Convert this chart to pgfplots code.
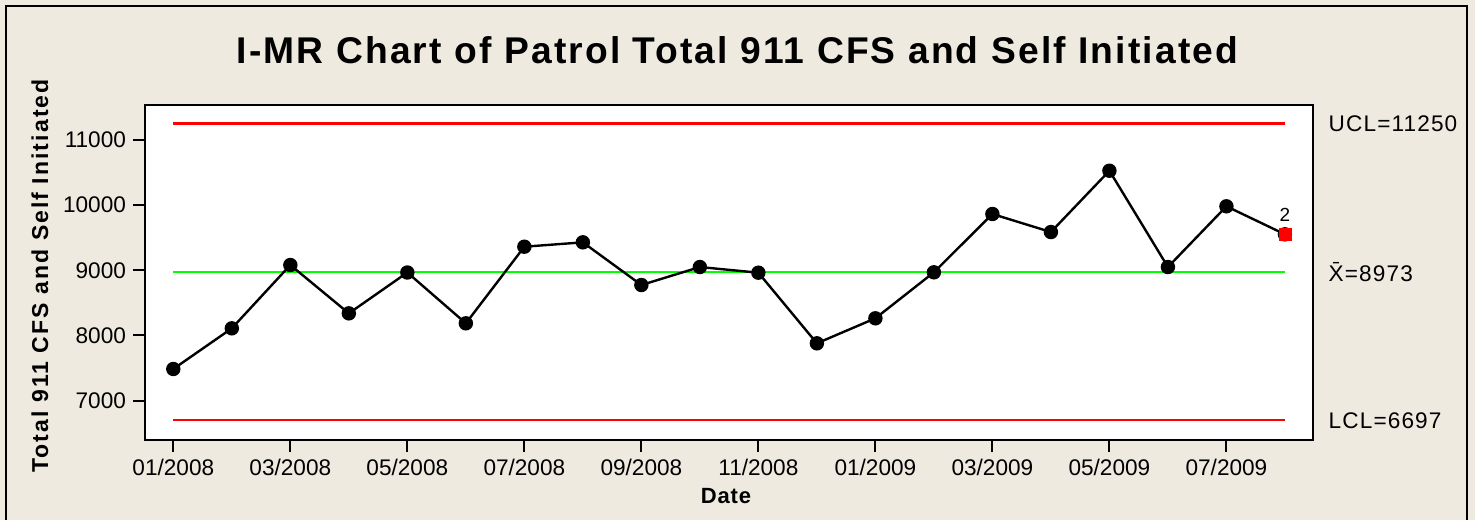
\documentclass[border=0pt]{standalone}
\usepackage{fontspec}
\setmainfont{Liberation Sans}
\usepackage{pgfplots}
\pgfplotsset{compat=1.18}
\definecolor{bg}{RGB}{238,234,224}
\definecolor{ctlred}{RGB}{255,0,0}
\definecolor{ctlgreen}{RGB}{0,255,0}

\pgfplotstableread{
idx val
1 7484
2 8108
3 9080
4 8338
5 8965
6 8185
7 9361
8 9428
9 8773
10 9049
11 8962
12 7878
13 8262
14 8968
15 9863
16 9586
17 10527
18 9049
19 9981
20 9551
}\datatable

\begin{document}
\begin{tikzpicture}
\useasboundingbox (0,0) rectangle (737.5pt,260pt);
\fill[bg] (0,0) rectangle (737.5pt,260pt);
\draw[line width=1.2pt, black] (3pt,0) -- (3pt,257pt) -- (733.5pt,257pt) -- (733.5pt,0);

\begin{axis}[
  at={(72.5pt,40pt)}, anchor=south west,
  width=584pt, height=167.5pt, scale only axis,
  xmin=0.516, xmax=20.48, ymin=6394, ymax=11536,
  axis background/.style={fill=white},
  xtick={1,3,...,19},
  xticklabels={01/2008,03/2008,05/2008,07/2008,09/2008,11/2008,01/2009,03/2009,05/2009,07/2009},
  ytick={7000,8000,9000,10000,11000},
  tick align=outside, tick pos=left,
  major tick length=6pt,
  tick style={black, line width=1pt},
  axis line style={black, line width=1pt},
  scaled y ticks=false,
  yticklabel style={/pgf/number format/1000 sep={}},
  /pgf/number format/assume math mode=true,
  ticklabel style={font=\fontsize{11.3}{13}\selectfont},
  clip=false,
]
\addplot[ctlred, line width=1.2pt, forget plot] coordinates {(1,11250) (20,11250)};
\addplot[ctlred, line width=1.2pt, forget plot] coordinates {(1,6697) (20,6697)};
\addplot[ctlgreen, line width=1.2pt, forget plot] coordinates {(1,8973) (20,8973)};
\addplot[black, line width=1.2pt, mark=*, mark size=3pt, mark options={fill=black}] table[x=idx, y=val] {\datatable};
\addplot[only marks, mark=square*, mark size=3pt, ctlred, mark options={fill=ctlred, draw=ctlred}] coordinates {(20,9551)};
\node[font=\fontsize{9.5}{11}\selectfont, anchor=south] at (axis cs:20,9551) [yshift=3pt] {2};
\node[anchor=west, font=\fontsize{11.3}{13}\selectfont\addfontfeature{LetterSpace=5}] at (axis cs:20.48,11250) [xshift=4.3pt] {UCL=11250};
\node[anchor=west, font=\fontsize{11.3}{13}\selectfont\addfontfeature{LetterSpace=5}] at (axis cs:20.48,8973) [xshift=4.3pt] {\=X=8973};
\node[anchor=west, font=\fontsize{11.3}{13}\selectfont\addfontfeature{LetterSpace=5}] at (axis cs:20.48,6697) [xshift=4.3pt] {LCL=6697};
\end{axis}

\node[font=\bfseries\fontsize{18.6}{22}\selectfont\addfontfeature{LetterSpace=5.8}] at (368.75pt,235pt) {I-MR Chart of Patrol Total 911 CFS and Self Initiated};
\node[font=\bfseries\fontsize{11.5}{13}\selectfont\addfontfeature{LetterSpace=9}, rotate=90] at (20pt,122pt) {Total 911 CFS and Self Initiated};
\node[font=\bfseries\fontsize{11}{13}\selectfont\addfontfeature{LetterSpace=4}] at (363pt,12pt) {Date};
\end{tikzpicture}
\end{document}
